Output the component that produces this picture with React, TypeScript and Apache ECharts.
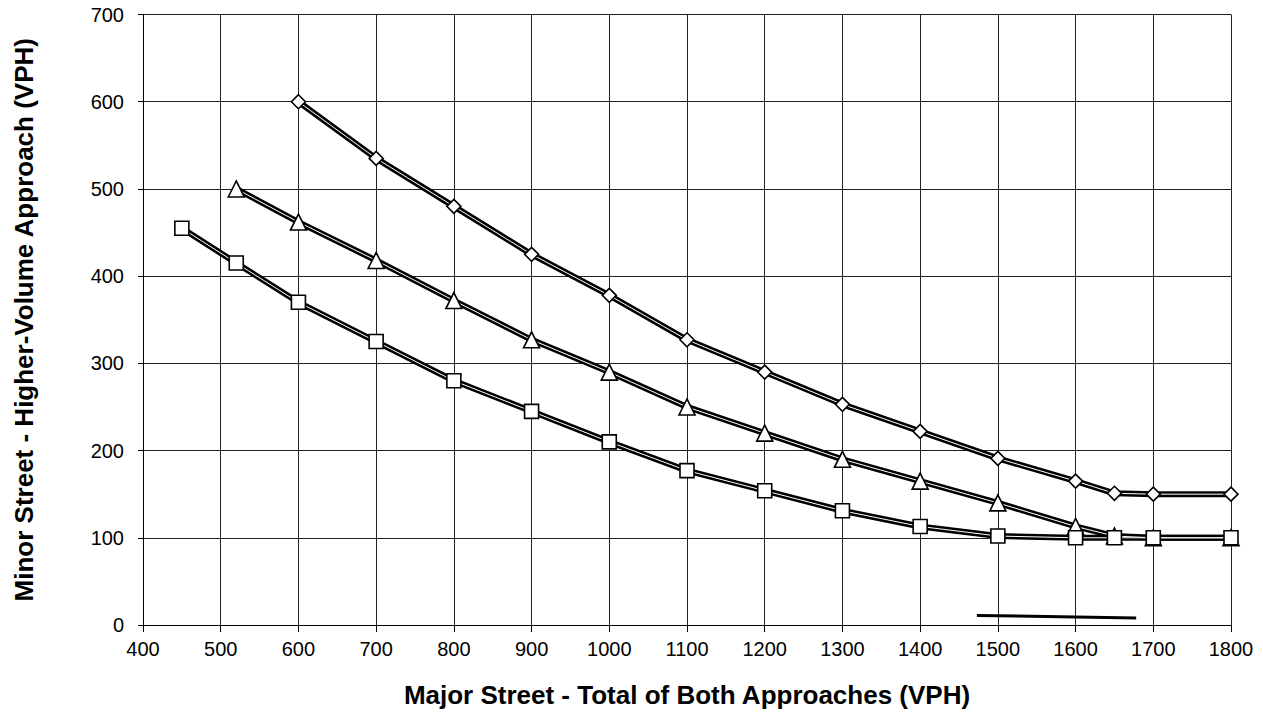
import React, { useEffect, useRef } from "react";
import * as echarts from "echarts";

const diamondX = [600, 700, 800, 900, 1000, 1100, 1200, 1300, 1400, 1500, 1600, 1650, 1700, 1800];
const diamondY = [600, 535, 480, 425, 378, 327, 290, 253, 222, 191, 165, 151, 150, 150];
const triangleX = [520, 600, 700, 800, 900, 1000, 1100, 1200, 1300, 1400, 1500, 1600, 1650, 1700, 1800];
const triangleY = [500, 462, 418, 372, 327, 290, 250, 220, 190, 165, 140, 113, 102, 100, 100];
const squareX = [450, 520, 600, 700, 800, 900, 1000, 1100, 1200, 1300, 1400, 1500, 1600, 1650, 1700, 1800];
const squareY = [455, 415, 370, 325, 280, 245, 210, 177, 154, 131, 113, 102, 100, 100, 100, 100];
const segmentX = [1473, 1678];
const segmentY = [11, 8];

const xTitle = "Major Street - Total of Both Approaches (VPH)";
const yTitle = "Minor Street - Higher-Volume Approach (VPH)";

const zip = (xs: number[], ys: number[]) => xs.map((x, i) => [x, ys[i]]);

export default function App() {
  const ref = useRef<HTMLDivElement>(null);
  useEffect(() => {
    if (!ref.current) return;
    const chart = echarts.init(ref.current, null, { renderer: "svg" });
    const font = "'Liberation Sans', Arial, sans-serif";
    const mkPair = (name: string, xs: number[], ys: number[], symbol: string, size: number) => [
      {
        name: name + "-thick",
        type: "line",
        data: zip(xs, ys),
        showSymbol: false,
        symbol: "none",
        lineStyle: { color: "#000", width: 6 },
        z: 2,
      },
      {
        name,
        type: "line",
        data: zip(xs, ys),
        symbol,
        symbolSize: size,
        itemStyle: { color: "#fff", borderColor: "#000", borderWidth: 1.6 },
        lineStyle: { color: "#fff", width: 1 },
        z: 3,
      },
    ];
    chart.setOption({
      animation: false,
      backgroundColor: "#fff",
      grid: { left: 143, right: 32, top: 14.5, bottom: 90, containLabel: false },
      xAxis: {
        type: "value",
        min: 400,
        max: 1800,
        interval: 100,
        name: xTitle,
        nameLocation: "middle",
        nameGap: 57,
        nameTextStyle: { fontFamily: font, fontSize: 26, fontWeight: "bold", color: "#000" },
        axisLine: { lineStyle: { color: "#000", width: 1 } },
        axisTick: { show: true, length: 7, lineStyle: { color: "#000" } },
        axisLabel: { fontFamily: font, fontSize: 20, color: "#000", margin: 14, formatter: (v: number) => String(v) },
        splitLine: { show: true, lineStyle: { color: "#222", width: 1 } },
      },
      yAxis: {
        type: "value",
        min: 0,
        max: 700,
        interval: 100,
        name: yTitle,
        nameLocation: "middle",
        nameGap: 106,
        nameRotate: 90,
        nameTextStyle: { fontFamily: font, fontSize: 26, fontWeight: "bold", color: "#000" },
        axisLine: { show: true, lineStyle: { color: "#000", width: 1 } },
        axisTick: { show: true, length: 5, lineStyle: { color: "#000" } },
        axisLabel: { fontFamily: font, fontSize: 20, color: "#000", margin: 19, formatter: (v: number) => String(v) },
        splitLine: { show: true, lineStyle: { color: "#222", width: 1 } },
      },
      series: [
        ...mkPair("diamond", diamondX, diamondY, "diamond", 14),
        ...mkPair("triangle", triangleX, triangleY, "triangle", 16),
        ...mkPair("square", squareX, squareY, "rect", 14),
        {
          name: "segment",
          type: "line",
          data: zip(segmentX, segmentY),
          symbol: "none",
          lineStyle: { color: "#000", width: 3 },
          z: 2,
        },
      ],
    });
    return () => chart.dispose();
  }, []);
  return (
    <div
      ref={ref}
      style={{ position: "fixed", left: 0, top: 0, width: 1263, height: 715, background: "#fff" }}
    />
  );
}
